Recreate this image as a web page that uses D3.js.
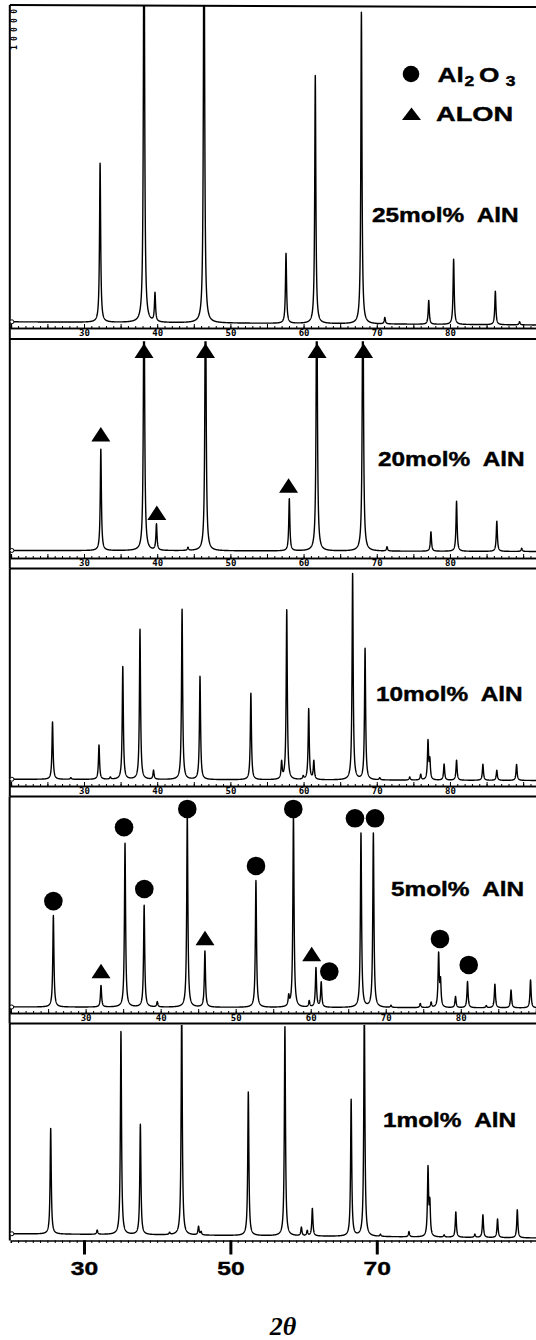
<!DOCTYPE html>
<html><head><meta charset="utf-8">
<script src="https://cdn.jsdelivr.net/npm/d3@7"></script>
<style>body{margin:0;background:#fff}svg{display:block}</style>
</head><body>
<svg id="c" width="536" height="1340"></svg>
<script>
// ---------------- DATA ----------------
const panelLabels = ["25mol%  AlN", "20mol%  AlN", "10mol%  AlN", "5mol%  AlN", "1mol%  AlN"];
const panelTickLabels = [30, 40, 50, 60, 70, 80];
const bottomTickLabels = [30, 50, 70];
const xTitle = "2θ";
const countLabel = "10000";

// peaks: [2θ (deg), intensity (% of panel height; >100 = off scale)]
const peaks25 = [[32.2,50],[38.2,150],[39.7,9],[46.4,150],[57.6,22],[61.6,78],[67.9,98],[71.1,2],[77.1,7.5],[80.5,20.5],[86.2,10.5],[89.5,1]];
const peaks20 = [[32.3,48.5],[38.2,150],[39.9,12.5],[44.2,1.5],[46.6,150],[58.05,25],[61.8,150],[68.1,150],[71.4,2],[77.4,9.3],[80.9,24],[86.4,14.5],[89.8,1.5]];
const peaks10 = [[25.7,27.5],[28.2,0.8],[32.05,16.5],[33.6,1],[35.3,54],[37.65,72],[39.5,4.3],[43.4,81.5],[45.85,49.5],[52.8,41.5],[57.0,8],[57.7,81.5],[59.95,1.5],[60.7,34],[61.4,8.8],[66.7,99],[68.4,63],[70.4,1],[74.5,1.5],[76.0,2.7],[77.0,18.4],[77.25,9],[79.2,7.7],[80.9,9.6],[84.5,7.7],[86.4,4.8],[89.1,7.7]];
const peaks5 = [[25.7,44],[32.05,10.4],[35.25,79],[37.8,49],[39.55,2.5],[43.55,93],[45.9,27],[52.7,61],[57.07,4.7],[57.7,93],[59.8,3],[60.7,19],[61.4,12],[66.7,84],[68.35,84],[70.7,1],[74.6,2],[76.05,2.5],[77.05,25.5],[77.3,12],[79.3,5.4],[80.9,12.6],[83.4,1],[84.55,11.4],[86.7,8.6],[89.3,13.5]];
const peaks1 = [[25.45,50],[31.8,2],[35.05,96],[37.7,52],[41.7,1],[43.35,110],[45.65,4],[46.0,1.5],[52.45,68],[57.45,99],[59.7,4],[60.5,2.4],[61.2,13],[66.5,64.5],[68.3,110],[70.5,1],[74.4,2.5],[77.0,32],[77.25,15],[79.2,1],[80.8,12],[83.4,1.5],[84.5,10.7],[86.5,8.8],[89.2,13.3]];
// sloping background, [at 20°, at 92°]
const background = [[1.0,0],[0.5,0],[0.6,0],[0.5,0],[2,0]];

// phase markers: [2θ, intensity level of marker centre]
const alonMarks20 = [[32.3,56],[38.2,96],[39.95,18.5],[46.6,96],[57.95,31.5],[61.85,96],[68.2,96]];
const alonMarks5 = [[32.05,17.8],[45.91,33.7],[60.13,26]];
const aluminaMarks5 = [[25.7,51.4],[35.12,86.9],[37.82,57.2],[43.55,95.7],[52.71,68.3],[57.68,95.7],[65.9,91.2],[68.57,91.2],[62.48,17.5],[77.23,33.2],[81.06,20.7]];

const allPeaks = [peaks25, peaks20, peaks10, peaks5, peaks1];
const allTri = [[], alonMarks20, [], alonMarks5, []];
const allCirc = [[], [], [], aluminaMarks5, []];

// ---------------- LAYOUT ----------------
const svg = d3.select("#c");
const FONT = "'Liberation Sans', Arial, sans-serif";
const layout = [
  {top:6,    zero:325,  axis:328,   bottom:339,   border:5,    r:[10.8,537.8], lab:[372,222]},
  {top:342.3,zero:551.5,axis:558,   bottom:568.5, border:null, r:[10.8,537.8], lab:[378,466]},
  {top:571.5,zero:780.5,axis:786,   bottom:796.5, border:null, r:[10.8,537.8], lab:[376,701]},
  {top:800,  zero:1008, axis:1013,  bottom:1023.5,border:null, r:[10.6,550.8], lab:[391,896]},
  {top:1026, zero:1238, axis:1240.5,bottom:null,  border:null, r:[10.8,537.8], lab:[383,1127]}
];
const GAMMA = 0.09;

function profile(pk, bg) {
  const pts = [];
  for (let t = 20.15; t <= 92; t += 0.015) {
    let v = bg[0] + (bg[1] - bg[0]) * (t - 20) / 72;
    for (const [c, h] of pk) { const d = (t - c) / GAMMA; v += h / (1 + d * d); }
    pts.push([t, v]);
  }
  return pts;
}

layout.forEach((L, i) => {
  const x = d3.scaleLinear().domain([20, 92]).range(L.r);
  const y = d3.scaleLinear().domain([0, 100]).range([L.zero, L.top]);
  const g = svg.append("g");
  const leftX = L.r[0] - 1;

  const clipId = "clip" + i;
  svg.append("clipPath").attr("id", clipId).append("rect")
    .attr("x", leftX).attr("y", L.top - 1).attr("width", 600).attr("height", L.axis - L.top + 1);

  // frame
  const topLine = (i === 0) ? L.border : layout[i - 1].bottom;
  g.append("line").attr("x1", leftX).attr("x2", leftX)
    .attr("y1", topLine).attr("y2", L.bottom == null ? L.axis : L.bottom)
    .attr("stroke", "#000").attr("stroke-width", 2);
  if (i === 0) g.append("line").attr("x1", leftX).attr("x2", 536).attr("y1", L.border).attr("y2", L.border + 2)
    .attr("stroke", "#000").attr("stroke-width", 2);
  if (L.bottom != null) g.append("line").attr("x1", leftX).attr("x2", 536).attr("y1", L.bottom).attr("y2", L.bottom)
    .attr("stroke", "#000").attr("stroke-width", 2);

  // pattern
  g.append("path").attr("clip-path", `url(#${clipId})`)
    .datum(profile(allPeaks[i], background[i]))
    .attr("fill", "none").attr("stroke", "#000").attr("stroke-width", 1.4).attr("stroke-linejoin", "round")
    .attr("d", d3.line().x(d => x(d[0])).y(d => y(d[1])));
  // small origin mark
  g.append("circle").attr("cx", x(20.15)).attr("cy", y(background[i][0])).attr("r", 2)
    .attr("fill", "#fff").attr("stroke", "#000").attr("stroke-width", 1);

  if (i < 4) {
    const minor = g.append("g").attr("transform", `translate(0,${L.axis})`)
      .call(d3.axisTop(x).tickValues(d3.range(21, 92)).tickSize(2).tickFormat(""));
    const major = g.append("g").attr("transform", `translate(0,${L.axis})`)
      .call(d3.axisTop(x).tickValues(d3.range(25, 92, 5)).tickSize(4).tickFormat(""));
    [minor, major].forEach(a => { a.select(".domain").attr("stroke-width", 1.6); a.selectAll(".tick line").attr("stroke-width", 1); });
    const labs = g.append("g").attr("transform", `translate(0,${L.axis})`)
      .call(d3.axisBottom(x).tickValues(panelTickLabels).tickSize(0).tickPadding(2).tickFormat(d3.format("d")));
    labs.select(".domain").remove();
    labs.selectAll("text").attr("font-family", "'DejaVu Sans Mono', monospace").attr("font-weight", "bold")
      .attr("font-size", 9).attr("fill", "#000");
  } else {
    const minor = g.append("g").attr("transform", `translate(0,${L.axis})`)
      .call(d3.axisBottom(x).tickValues(d3.range(21, 92)).tickSize(2.5).tickFormat(""));
    minor.select(".domain").attr("stroke-width", 1.6);
    const major = g.append("g").attr("transform", `translate(0,${L.axis})`)
      .call(d3.axisBottom(x).tickValues(bottomTickLabels).tickSize(14).tickPadding(7).tickFormat(d3.format("d")));
    major.select(".domain").remove();
    major.selectAll(".tick line").attr("stroke-width", 3).attr("stroke", "#000");
    major.selectAll("text").attr("font-family", FONT).attr("font-weight", "bold").attr("font-size", 18.5)
      .attr("fill", "#000").attr("stroke", "#000").attr("stroke-width", 0.4).attr("transform", "scale(1.33,1)");
    g.append("text").attr("x", x(57.2)).attr("y", 1335).attr("text-anchor", "middle")
      .attr("font-family", "'Liberation Serif', 'Times New Roman', serif").attr("font-style", "italic")
      .attr("font-weight", "bold").attr("font-size", 26).text(xTitle);
  }

  // sample label
  g.append("text").attr("transform", `translate(${L.lab[0]},${L.lab[1]}) scale(1.25,1)`)
    .attr("font-family", FONT).attr("font-weight", "bold").attr("font-size", 19.5)
    .attr("stroke", "#000").attr("stroke-width", 0.4)
    .style("white-space", "pre").text(panelLabels[i]);

  // markers
  const TW = 19, TH = 14.5;
  g.selectAll("path.tri").data(allTri[i]).join("path").attr("class", "tri")
    .attr("d", d => { const cx = x(d[0]), cy = y(d[1]);
      return `M${cx},${cy - TH / 2}L${cx + TW / 2},${cy + TH / 2}L${cx - TW / 2},${cy + TH / 2}Z`; })
    .attr("fill", "#000");
  g.selectAll("circle.al").data(allCirc[i]).join("circle").attr("class", "al")
    .attr("cx", d => x(d[0])).attr("cy", d => y(d[1])).attr("r", 9.3).attr("fill", "#000");
});

// counts label top-left
svg.append("text").attr("transform", "translate(17,50) rotate(-90)")
  .attr("font-family", "'DejaVu Sans Mono', monospace").attr("font-size", 8).attr("font-weight", "bold")
  .attr("textLength", 41).attr("lengthAdjust", "spacing").text(countLabel);

// legend
const lg = svg.append("g");
lg.append("circle").attr("cx", 411).attr("cy", 74).attr("r", 8.3).attr("fill", "#000");
lg.append("path").attr("d", "M411.5,107.5L421,120L402,120Z").attr("fill", "#000");
const t1 = lg.append("text").attr("transform", "translate(437.5,82) scale(1.25,1)")
  .attr("font-family", FONT).attr("font-weight", "bold").attr("font-size", 21)
  .attr("stroke", "#000").attr("stroke-width", 0.4);
t1.append("tspan").text("Al");
t1.append("tspan").attr("font-size", 14).attr("dy", 4).attr("dx", 0.5).text("2");
t1.append("tspan").attr("dy", -4).attr("dx", 4).text("O");
t1.append("tspan").attr("font-size", 14).attr("dy", 4).attr("dx", 5).text("3");
lg.append("text").attr("transform", "translate(436,121) scale(1.3,1)")
  .attr("font-family", FONT).attr("font-weight", "bold").attr("font-size", 21)
  .attr("stroke", "#000").attr("stroke-width", 0.4).text("ALON");
</script>
</body></html>
